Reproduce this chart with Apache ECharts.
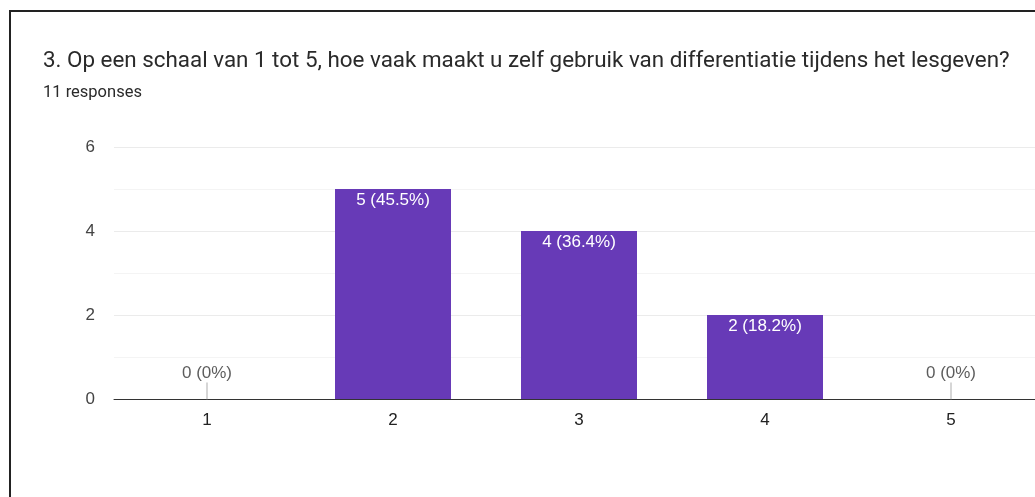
<!DOCTYPE html>
<html>
<head>
<meta charset="utf-8">
<script src="https://cdn.jsdelivr.net/npm/echarts@6/dist/echarts.min.js"></script>
<style>
  html, body { margin: 0; padding: 0; background: #fff; overflow: hidden; }
  #chart { position: absolute; left: 0; top: 0; width: 1060px; height: 497px; }
  .frame {
    position: absolute; left: 9px; top: 10px; width: 1040px; height: 500px;
    border-top: 2px solid #222; border-left: 2px solid #222; pointer-events: none;
  }
</style>
</head>
<body>
<div id="chart"></div>
<div class="frame"></div>
<script>
// question data
const categories = ['1', '2', '3', '4', '5'];
const counts = [0, 5, 4, 2, 0];
const yTicks = [0, 2, 4, 6];
const titleText = '3. Op een schaal van 1 tot 5, hoe vaak maakt u zelf gebruik van differentiatie tijdens het lesgeven?';
const subText = '11 responses';

const total = counts.reduce((a, b) => a + b, 0);
const pct = (v) => parseFloat((v / total * 100).toFixed(1)) + '%';

const chart = echarts.init(document.getElementById('chart'));

const option = {
  animation: false,
  backgroundColor: '#fff',
  title: [
    {
      text: titleText,
      left: 43,
      top: 50,
      padding: 0,
      textStyle: { fontFamily: 'Roboto', fontSize: 22.4, fontWeight: 'normal', color: '#2a2a2a' },
    },
    {
      text: subText,
      left: 43,
      top: 84,
      padding: 0,
      textStyle: { fontFamily: 'Roboto', fontSize: 16.5, fontWeight: 'normal', color: '#2a2a2a' },
    },
  ],
  grid: { left: 114, top: 147, width: 930, height: 252 },
  xAxis: {
    type: 'category',
    data: categories,
    axisLine: { lineStyle: { color: '#333', width: 1 } },
    axisTick: { show: false },
    axisLabel: { color: '#222', fontFamily: 'Liberation Sans', fontSize: 17, margin: 13 },
  },
  yAxis: {
    type: 'value',
    min: yTicks[0],
    max: yTicks[yTicks.length - 1],
    interval: 2,
    axisLine: { show: false },
    axisTick: { show: false },
    axisLabel: { color: '#444', fontFamily: 'Liberation Sans', fontSize: 17, margin: 19 },
    splitLine: { lineStyle: { color: '#ebebeb' } },
    minorTick: { show: false, splitNumber: 2 },
    minorSplitLine: { show: true, lineStyle: { color: '#f4f4f4' } },
  },
  series: [
    {
      type: 'bar',
      // labels inside top for bars, hidden when zero
      data: counts.map((v) => ({
        value: v,
        label: v > 0
          ? { position: 'insideTop', distance: 3, color: '#fff' }
          : { show: false },
      })),
      barWidth: 116,
      itemStyle: { color: '#673ab7' },
      label: {
        show: true,
        fontFamily: 'Liberation Sans',
        fontSize: 17,
        formatter: (p) => p.value + ' (' + pct(p.value) + ')',
      },
      z: 2,
    },
    {
      // zero-value markers with their labels
      type: 'scatter',
      data: counts.map((v, i) => (v === 0 ? [i, 0] : null)).filter((d) => d),
      symbol: 'rect',
      symbolSize: [1, 17],
      symbolOffset: [0, -8],
      itemStyle: { color: '#999' },
      label: {
        show: true,
        position: 'top',
        distance: 1,
        color: '#333',
        fontFamily: 'Liberation Sans',
        fontSize: 17,
        formatter: (p) => p.value[1] + ' (' + pct(p.value[1]) + ')',
      },
      z: 3,
    },
  ],
};

chart.setOption(option);
window.addEventListener('resize', () => chart.resize());
</script>
</body>
</html>
